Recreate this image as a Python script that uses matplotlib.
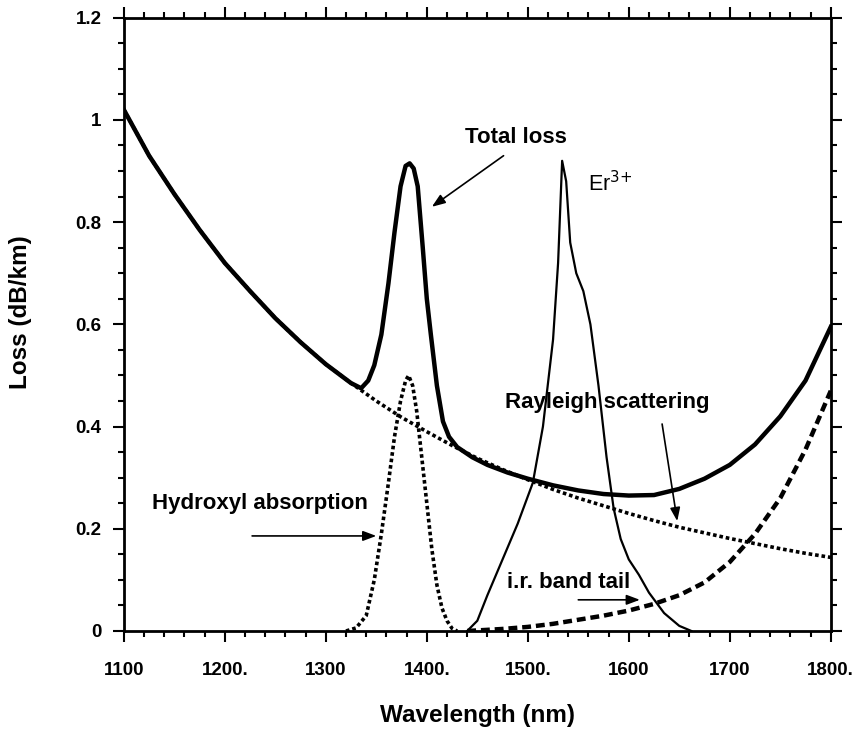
import matplotlib
matplotlib.use("Agg")
import matplotlib.pyplot as plt
from matplotlib.ticker import MultipleLocator, FixedLocator

plt.rcParams.update({
    "font.family": ["Liberation Sans", "DejaVu Sans"],
    "axes.linewidth": 2.0,
})

# ── data ───────────────────────────────────────────────────────────────────
rayleigh_wl = [1100, 1125, 1150, 1175, 1200, 1225, 1250, 1275, 1300, 1325, 1350, 1375,
               1400, 1425, 1450, 1475, 1500, 1525, 1550, 1575, 1600, 1625, 1650, 1675,
               1700, 1725, 1750, 1775, 1800]
rayleigh_loss = [1.02, 0.93, 0.855, 0.785, 0.72, 0.665, 0.612, 0.565, 0.522, 0.485, 0.45, 0.418,
                 0.39, 0.363, 0.338, 0.316, 0.296, 0.277, 0.26, 0.245, 0.23, 0.216, 0.203, 0.192,
                 0.181, 0.171, 0.161, 0.152, 0.144]

total_wl = [1100, 1125, 1150, 1175, 1200, 1225, 1250, 1275, 1300, 1325, 1335, 1342, 1348,
            1355, 1362, 1368, 1374, 1379, 1383, 1387, 1391, 1396, 1400, 1404, 1410, 1416,
            1422, 1430, 1445, 1460, 1480, 1500, 1525, 1550, 1575, 1600, 1625, 1650, 1675,
            1700, 1725, 1750, 1775, 1800]
total_loss = [1.02, 0.93, 0.855, 0.785, 0.72, 0.665, 0.612, 0.565, 0.522, 0.485, 0.475, 0.49, 0.52,
              0.58, 0.68, 0.78, 0.87, 0.91, 0.915, 0.905, 0.87, 0.75, 0.65, 0.58, 0.48, 0.41,
              0.38, 0.36, 0.34, 0.325, 0.31, 0.298, 0.285, 0.275, 0.268, 0.265, 0.266, 0.278, 0.298,
              0.325, 0.365, 0.42, 0.49, 0.595]

oh_wl = [1320, 1330, 1340, 1348, 1355, 1362, 1368, 1374, 1379, 1382, 1386, 1390, 1395,
         1400, 1405, 1410, 1415, 1420, 1425, 1430]
oh_loss = [0.0, 0.006, 0.03, 0.10, 0.19, 0.29, 0.38, 0.45, 0.49, 0.50, 0.48, 0.43, 0.34,
           0.25, 0.16, 0.09, 0.045, 0.02, 0.005, 0.0]

ir_wl = [1440, 1475, 1500, 1525, 1550, 1575, 1600, 1625, 1650, 1675, 1700, 1725, 1750, 1775, 1800]
ir_loss = [0.0, 0.004, 0.008, 0.014, 0.022, 0.03, 0.04, 0.053, 0.07, 0.095, 0.135, 0.19, 0.26,
           0.355, 0.47]

er_wl = [1440, 1450, 1460, 1475, 1490, 1505, 1515, 1525, 1530, 1534, 1538, 1542, 1548, 1555,
         1562, 1570, 1578, 1585, 1592, 1600, 1610, 1620, 1635, 1650, 1662]
er_loss = [0.0, 0.02, 0.07, 0.14, 0.21, 0.29, 0.40, 0.57, 0.72, 0.92, 0.88, 0.76, 0.70, 0.665,
           0.60, 0.48, 0.34, 0.24, 0.18, 0.14, 0.11, 0.075, 0.035, 0.01, 0.0]

x_ticks = [1100, 1200, 1300, 1400, 1500, 1600, 1700, 1800]
x_tick_labels = ["1100", "1200.", "1300", "1400.", "1500.", "1600", "1700", "1800."]
y_ticks = [0, 0.2, 0.4, 0.6, 0.8, 1.0, 1.2]
y_tick_labels = ["0", "0.2", "0.4", "0.6", "0.8", "1", "1.2"]

fig = plt.figure(figsize=(8.6, 7.38), dpi=100)
ax = fig.add_axes([0.144, 0.145, 0.822, 0.831])

ax.plot(rayleigh_wl, rayleigh_loss, color="black", linewidth=2.6, linestyle=(0, (1, 0.8)))
ax.plot(oh_wl, oh_loss, color="black", linewidth=2.6, linestyle=(0, (1, 0.8)))
ax.plot(ir_wl, ir_loss, color="black", linewidth=3.2, linestyle=(0, (2, 1.1)))
ax.plot(er_wl, er_loss, color="black", linewidth=1.6)
ax.plot(total_wl, total_loss, color="black", linewidth=3.2)

ax.set_xlim(1100, 1800)
ax.set_ylim(0, 1.2)

ax.xaxis.set_major_locator(FixedLocator(x_ticks))
ax.set_xticklabels(x_tick_labels)
ax.xaxis.set_minor_locator(MultipleLocator(20))
ax.yaxis.set_major_locator(FixedLocator(y_ticks))
ax.set_yticklabels(y_tick_labels)
ax.yaxis.set_minor_locator(MultipleLocator(0.05))

ax.tick_params(which="both", direction="out", top=True, right=True, width=1.5)
ax.tick_params(which="major", length=8)
ax.tick_params(which="minor", length=4)
ax.tick_params(axis="x", which="major", pad=14, labelsize=13.5)
ax.tick_params(axis="y", which="major", pad=8, labelsize=13.5)
for lbl in ax.get_xticklabels() + ax.get_yticklabels():
    lbl.set_fontweight("bold")

ax.set_xlabel("Wavelength (nm)", fontsize=17.5, fontweight="bold", labelpad=18)
ax.set_ylabel("Loss (dB/km)", fontsize=17.5, fontweight="bold")
ax.yaxis.set_label_coords(-0.13, 0.52)

arrow = dict(arrowstyle="-|>,head_length=0.8,head_width=0.3", color="black", linewidth=1.2,
             shrinkA=0, shrinkB=0)

ax.text(1488, 0.965, "Total loss", fontsize=16, fontweight="bold", ha="center", va="center")
ax.annotate("", xy=(1405, 0.83), xytext=(1476, 0.93), arrowprops=arrow)

ax.text(1560, 0.875, "Er$^{3{+}}$", fontsize=15.5, ha="left", va="center")

ax.text(1579, 0.447, "Rayleigh scattering", fontsize=16, fontweight="bold", ha="center", va="center")
ax.annotate("", xy=(1648, 0.215), xytext=(1633, 0.405), arrowprops=arrow)

ax.text(1235, 0.249, "Hydroxyl absorption", fontsize=16, fontweight="bold", ha="center", va="center")
ax.annotate("", xy=(1350, 0.186), xytext=(1227, 0.186), arrowprops=arrow)

ax.text(1540, 0.094, "i.r. band tail", fontsize=16, fontweight="bold", ha="center", va="center")
ax.annotate("", xy=(1611, 0.061), xytext=(1550, 0.061), arrowprops=arrow)

fig.savefig("out.png", dpi=100, facecolor="white")
plt.close(fig)
